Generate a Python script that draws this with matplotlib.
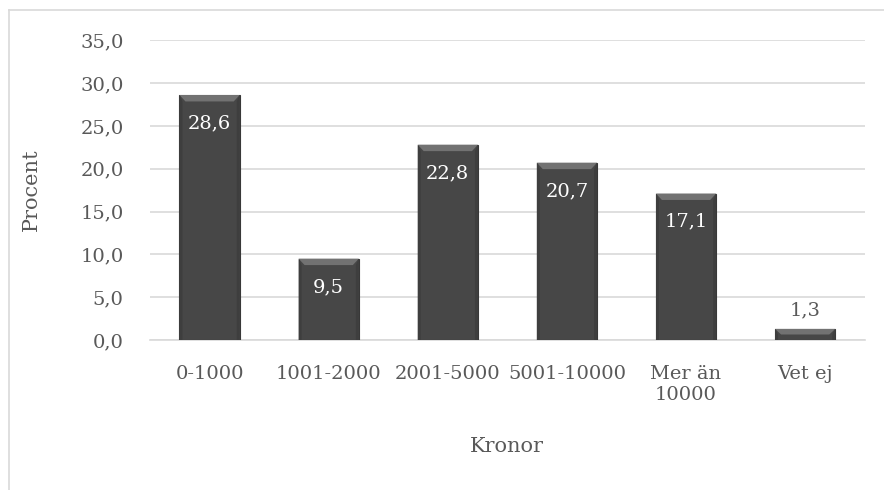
import matplotlib.pyplot as plt
from matplotlib.patches import Polygon
from matplotlib.lines import Line2D

categories = ['0-1000', '1001-2000', '2001-5000', '5001-10000', 'Mer än\n10000', 'Vet ej']
values = [28.6, 9.5, 22.8, 20.7, 17.1, 1.3]
labels = ['28,6', '9,5', '22,8', '20,7', '17,1', '1,3']
yticks = [0, 5, 10, 15, 20, 25, 30, 35]

plt.rcParams['font.family'] = ['DejaVu Serif']
txt = '#595959'
fs = 14

fig = plt.figure(figsize=(8.84, 4.9), dpi=100)
ax = fig.add_axes([0.1697, 0.306, 0.8085, 0.612])

x = range(len(categories))
bars = ax.bar(x, values, width=0.505, color='#474747', edgecolor='#383838',
              linewidth=0.8, zorder=3)

# bevel: light wedge on top, thin darker sides
for b in bars:
    x0, w, h = b.get_x(), b.get_width(), b.get_height()
    d = min(0.75, h * 0.5)
    dx = 0.05
    ax.add_patch(Polygon([(x0, h), (x0 + w, h), (x0 + w - dx, h - d), (x0 + dx, h - d)],
                         closed=True, facecolor='#727272', edgecolor='none', zorder=4))
    ax.add_patch(Polygon([(x0, h), (x0 + dx * 0.5, h - d), (x0 + dx * 0.5, 0), (x0, 0)],
                         closed=True, facecolor='#3e3e3e', edgecolor='none', zorder=4))
    ax.add_patch(Polygon([(x0 + w, h), (x0 + w - dx * 0.5, h - d), (x0 + w - dx * 0.5, 0), (x0 + w, 0)],
                         closed=True, facecolor='#3e3e3e', edgecolor='none', zorder=4))

for i, (v, lab) in enumerate(zip(values, labels)):
    if v > 5:
        ax.text(i, v - 3.3, lab, ha='center', va='center', color='white', fontsize=fs, zorder=5)
    else:
        ax.text(i, v + 2.2, lab, ha='center', va='center', color=txt, fontsize=fs, zorder=5)

ax.set_ylim(0, 35)
ax.set_xlim(-0.5, len(categories) - 0.5)
ax.set_yticks(yticks)
ax.set_yticklabels([f'{t:.1f}'.replace('.', ',') for t in yticks])
ax.set_xticks(list(x))
ax.set_xticklabels(categories, linespacing=1.2)
ax.tick_params(axis='both', length=0, labelsize=fs, labelcolor=txt)
ax.tick_params(axis='x', pad=18)
ax.tick_params(axis='y', pad=19)
ax.yaxis.grid(True, color='#d9d9d9', linewidth=1.2, zorder=0)
ax.set_axisbelow(True)
for s in ['top', 'right', 'left']:
    ax.spines[s].set_visible(False)
ax.spines['bottom'].set_color('#d9d9d9')
ax.spines['bottom'].set_linewidth(1.2)

ax.set_ylabel('Procent', fontsize=fs + 1, color=txt, labelpad=28)
ax.set_xlabel('Kronor', fontsize=fs + 1, color=txt, labelpad=24)

# chart area border
fig.add_artist(Line2D([9 / 884, 1], [1 - 10 / 490, 1 - 10 / 490], color='#d9d9d9', lw=1.2))
fig.add_artist(Line2D([9 / 884, 9 / 884], [0, 1 - 10 / 490], color='#d9d9d9', lw=1.2))

fig.savefig('out.png', dpi=100)
